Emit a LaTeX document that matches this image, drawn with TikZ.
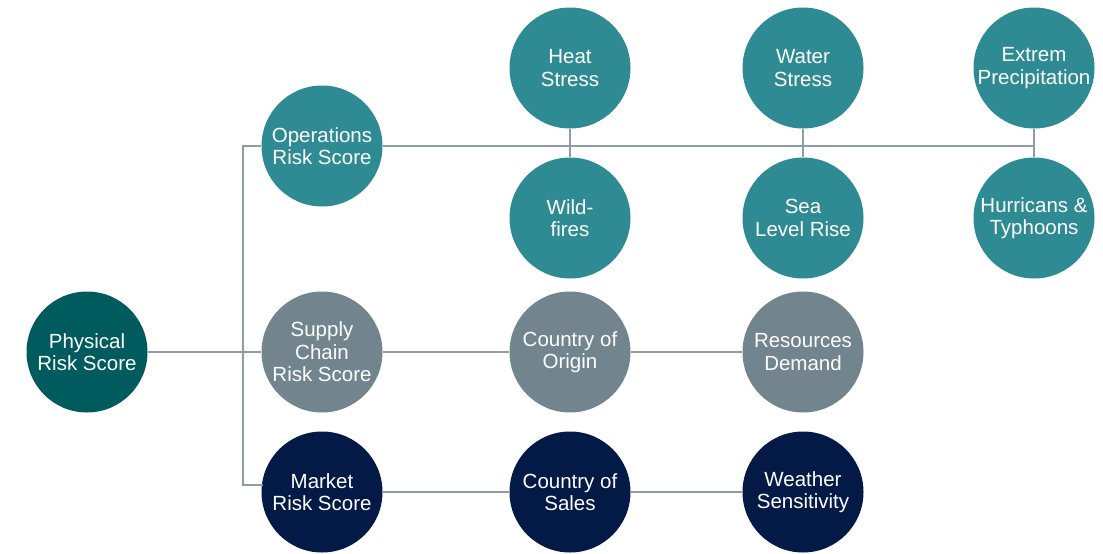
\documentclass[tikz,border=0pt]{standalone}
\usepackage{fontspec}
\setmainfont{Liberation Sans}
\usepackage{tikz}

\definecolor{riskteal}{HTML}{2E8A93}
\definecolor{riskdark}{HTML}{005B5E}
\definecolor{riskgrey}{HTML}{72858F}
\definecolor{risknavy}{HTML}{021A45}
\definecolor{linkgrey}{HTML}{8D9CA7}

\begin{document}
\begin{tikzpicture}[x=1pt,y=-1pt,
  score/.style={circle, minimum size=121pt, inner sep=0pt, align=center,
    text=white, font=\fontsize{20.5}{22.5}\selectfont},
  link/.style={draw=linkgrey, line width=1.1pt}]

\useasboundingbox (0,0) rectangle (1103,554);

\node[score, fill=riskdark] (phys) at (87,352) {Physical\\Risk Score};
\node[score, fill=riskteal] (ops) at (322,146) {Operations\\Risk Score};
\node[score, fill=riskgrey] (sup) at (322,352) {Supply\\Chain\\Risk Score};
\node[score, fill=risknavy] (mkt) at (322,492) {Market\\Risk Score};

\node[score, fill=riskteal] (heat) at (570,68) {Heat\\Stress};
\node[score, fill=riskteal] (wild) at (570,218) {Wild-\\fires};
\node[score, fill=riskteal] (water) at (803,68) {Water\\Stress};
\node[score, fill=riskteal] (sea) at (803,218) {Sea\\Level Rise};
\node[score, fill=riskteal] (ext) at (1034,68) {Extrem\\Precipitation};
\node[score, fill=riskteal] (hur) at (1034,218) {Hurricans \&\\Typhoons};

\node[score, fill=riskgrey] (coo) at (570,352) {Country of\\Origin};
\node[score, fill=riskgrey] (res) at (803,352) {Resources\\Demand};
\node[score, fill=risknavy] (cos) at (570,492) {Country of\\Sales};
\node[score, fill=risknavy] (wea) at (803,492) {Weather\\Sensitivity};

\coordinate (trunk) at (243,352);
\coordinate (mktin) at (263,485);
\coordinate (opsend) at (ext |- ops);

% tree
\draw[link] (phys) -- (sup);
\draw[link] (ops.west) -| (trunk) |- (mktin);
\draw[link] (ops) -- (opsend);
\draw[link] (heat) -- (wild);
\draw[link] (water) -- (sea);
\draw[link] (ext) -- (hur);
\draw[link] (sup) -- (coo) -- (res);
\draw[link] (mkt) -- (cos) -- (wea);
\end{tikzpicture}
\end{document}
